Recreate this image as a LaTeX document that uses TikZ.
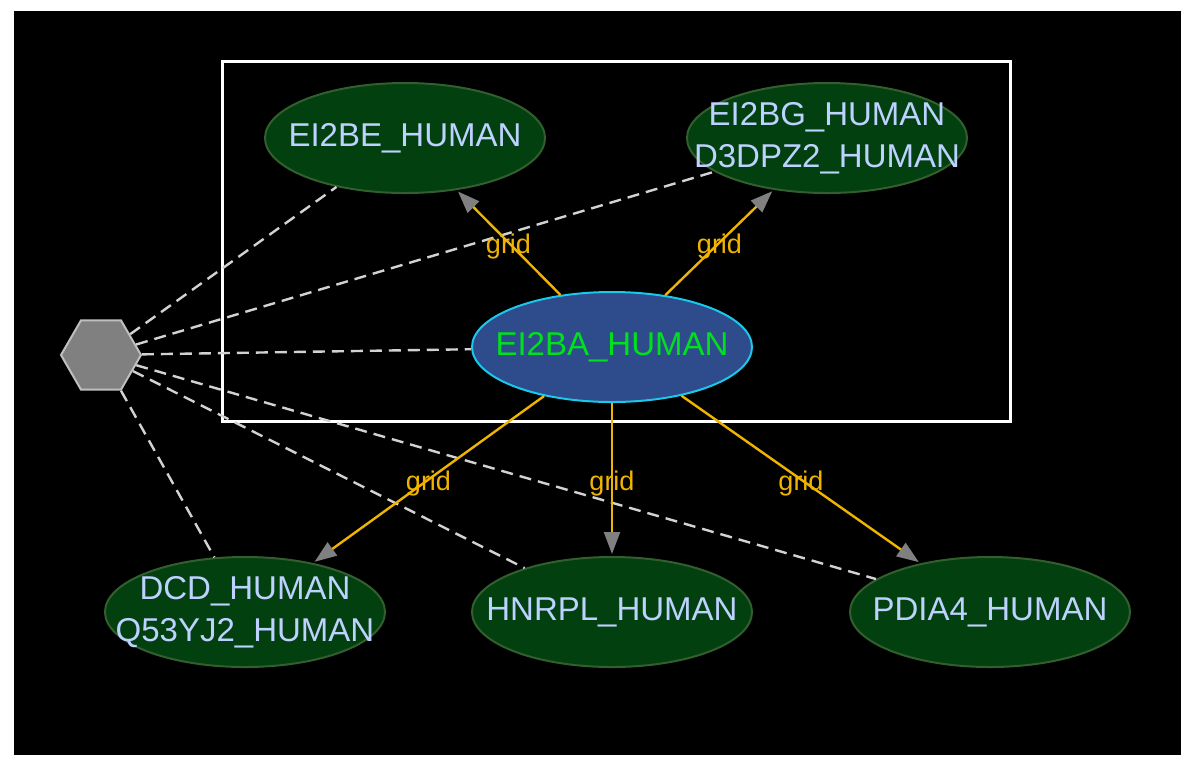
\documentclass[tikz,border=0pt]{standalone}
\usepackage{fontspec}
\setmainfont{Liberation Sans}
\usetikzlibrary{shapes.geometric,arrows.meta}
\definecolor{protgreen}{RGB}{2,64,16}
\definecolor{protedge}{RGB}{50,95,45}
\definecolor{prottext}{RGB}{190,210,255}
\definecolor{seedblue}{RGB}{46,76,140}
\definecolor{seededge}{RGB}{25,200,235}
\definecolor{seedtext}{RGB}{0,225,30}
\definecolor{gridorange}{RGB}{240,180,0}
\definecolor{linkgray}{RGB}{210,210,210}
\tikzset{
  prot/.style={ellipse,draw=protedge,line width=1pt,fill=protgreen,text=prottext,
    minimum width=140pt,minimum height=55pt,inner xsep=-20pt,inner ysep=-15pt,align=center,
    font=\fontsize{16.5}{21}\selectfont},
  seed/.style={prot,fill=seedblue,draw=seededge,text=seedtext},
  hub/.style={regular polygon,regular polygon sides=6,minimum size=40pt,inner sep=0pt,
    fill=gray,draw=lightgray,line width=1pt},
  gridedge/.style={draw=gridorange,line width=1.2pt,
    -{Triangle[length=11pt,width=8pt,color=gray]},shorten >=1pt},
  gridlabel/.style={text=gridorange,font=\fontsize{13.5}{15}\selectfont,inner sep=0pt},
  member/.style={draw=linkgray,line width=1.2pt,dash pattern=on 6pt off 3.5pt}
}
\begin{document}
\begin{tikzpicture}[x=0.5pt,y=-0.5pt]
\useasboundingbox (0,0) rectangle (1200,768);
\fill[white] (0,0) rectangle (1200,768);
\fill[black] (14,11) rectangle (1181,755);
\draw[white,line width=1.5pt] (222,61) rectangle (1010,421);
% proteins
\node[prot] (e2be) at (405,138) {EI2BE\_HUMAN};
\node[prot] (e2bg) at (827,138) {EI2BG\_HUMAN\\D3DPZ2\_HUMAN};
\node[seed] (e2ba) at (612,347) {EI2BA\_HUMAN};
\node[prot] (dcd) at (245,612) {DCD\_HUMAN\\Q53YJ2\_HUMAN};
\node[prot] (hnrpl) at (612,612) {HNRPL\_HUMAN};
\node[prot] (pdia4) at (990,612) {PDIA4\_HUMAN};
\node[hub] (hub) at (101,355) {};
% complex members
\foreach \t in {e2be,e2bg,e2ba,dcd,hnrpl,pdia4}
  \draw[member] (hub) -- (\t);
% grid interactions
\foreach \t in {e2be,e2bg,dcd,hnrpl,pdia4}
  \draw[gridedge] (e2ba) -- (\t) node[gridlabel,pos=0.5,yshift=-2pt] {grid};
\end{tikzpicture}
\end{document}
